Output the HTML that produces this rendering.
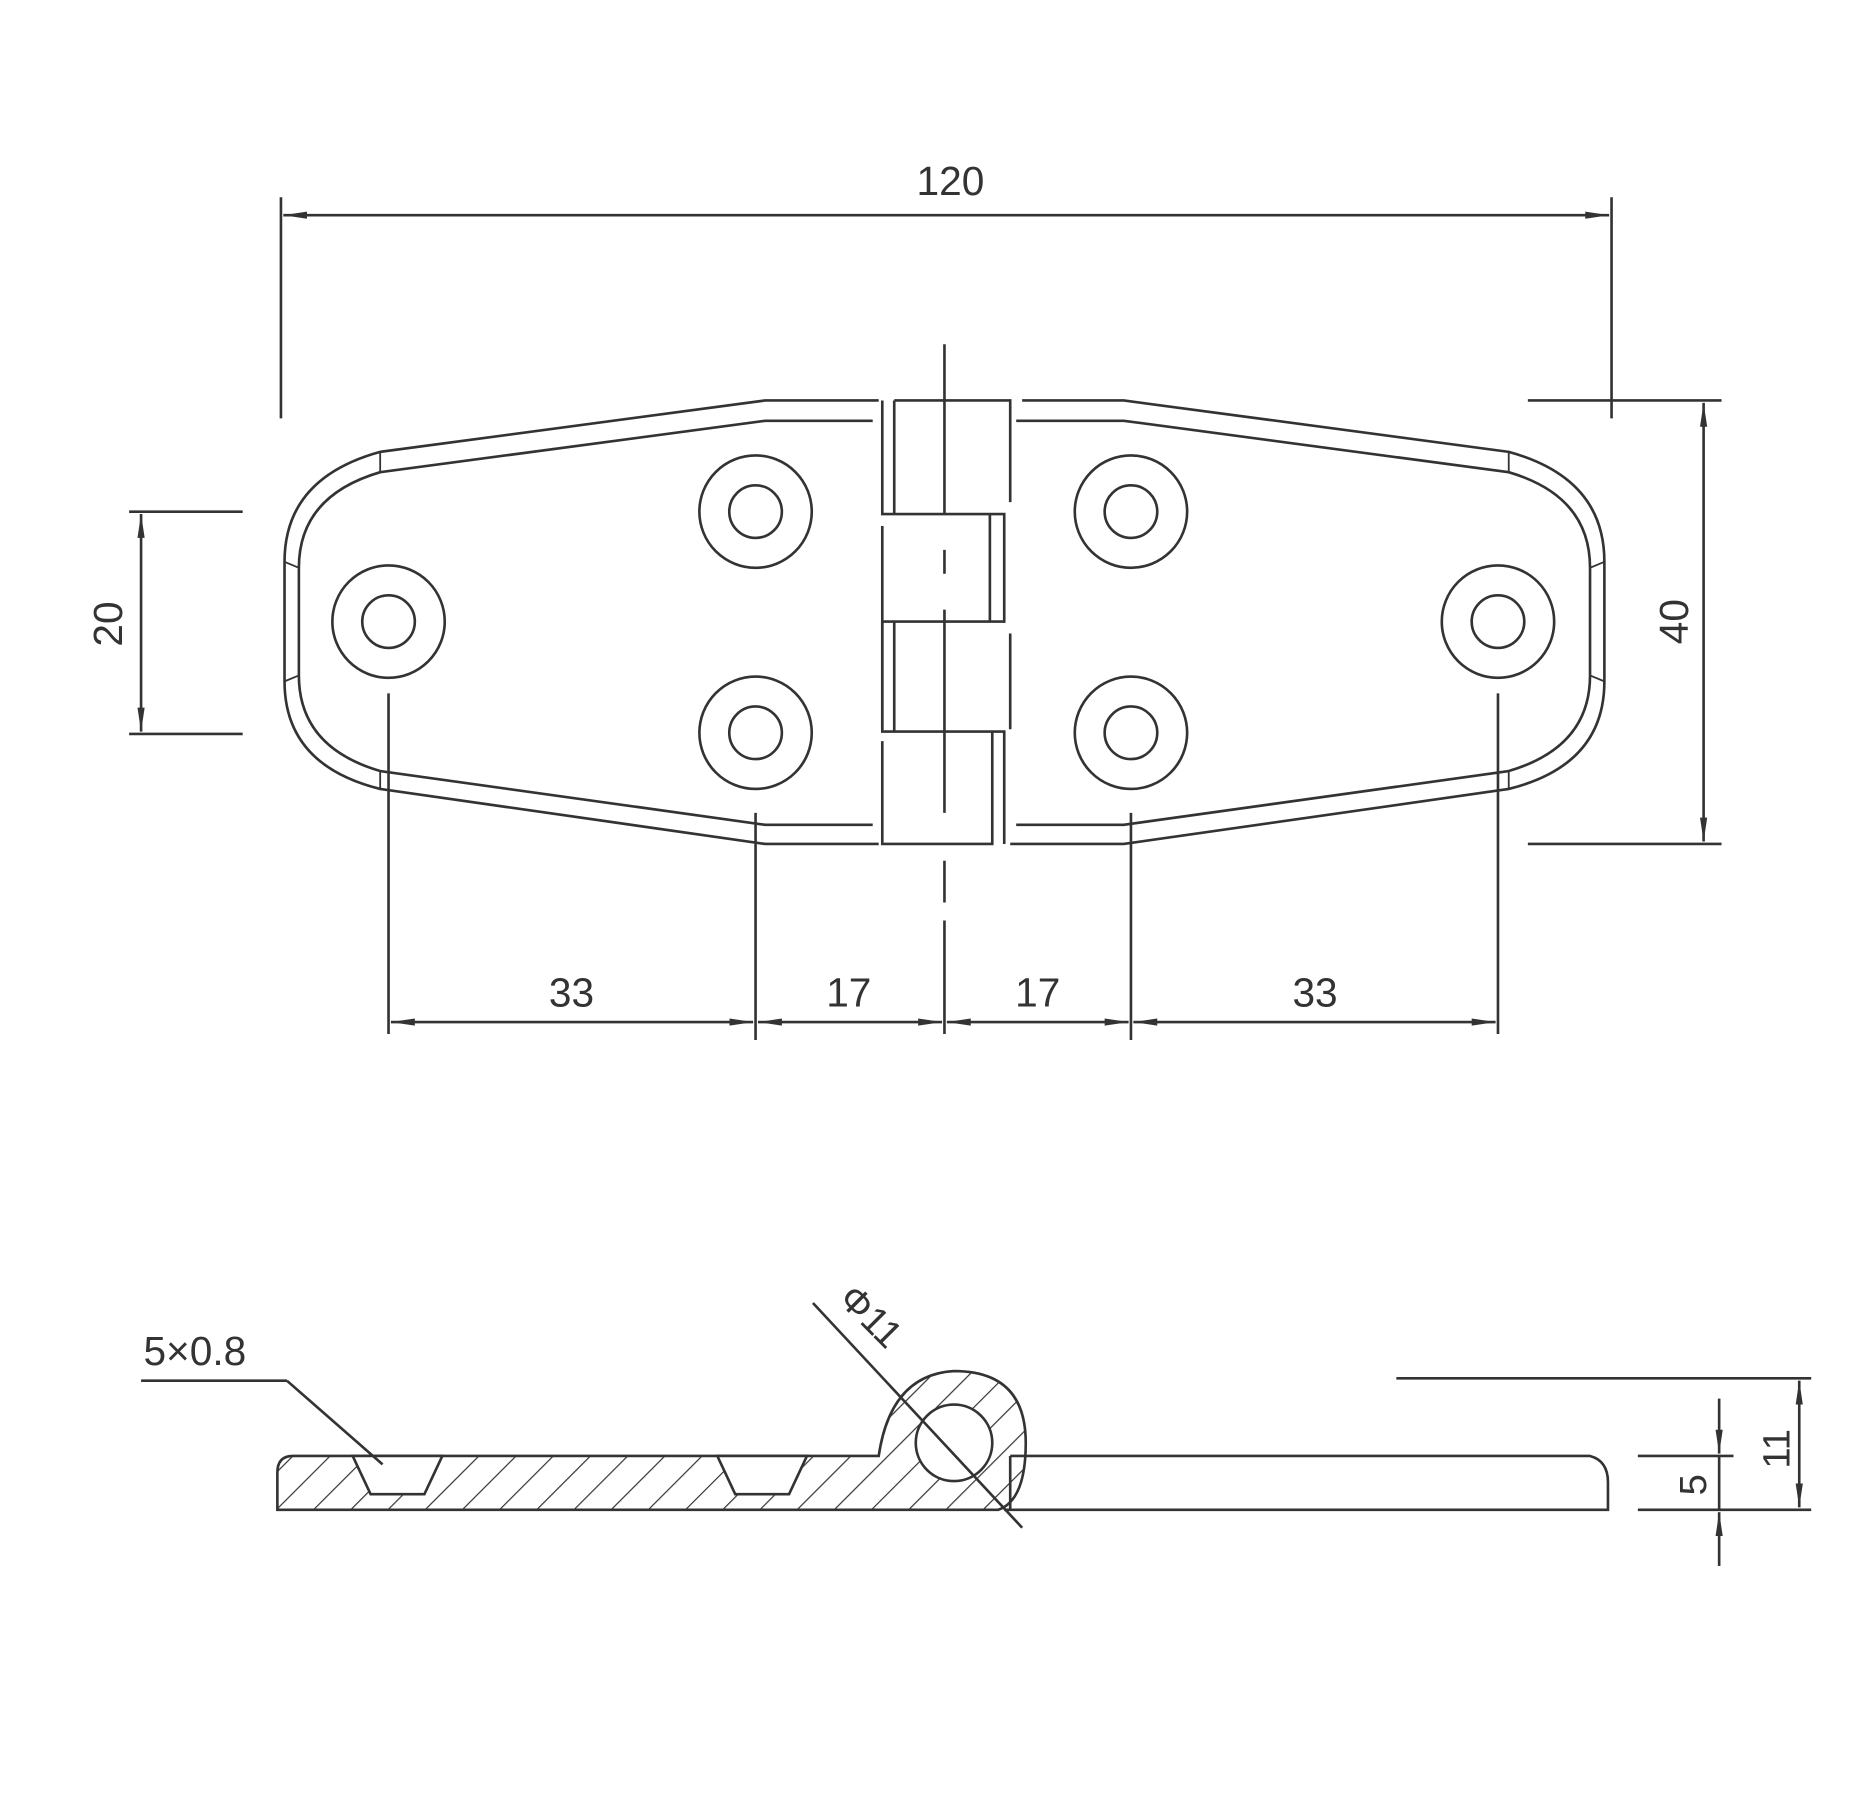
<!DOCTYPE html>
<html><head><style>html,body{margin:0;padding:0;background:#fff}svg{display:block}</style></head><body>
<svg width="1865" height="1817" viewBox="0 0 1560 1520" preserveAspectRatio="none" xmlns="http://www.w3.org/2000/svg" font-family="Liberation Sans, sans-serif" fill="none" stroke="#333" stroke-width="2.2">
<defs>
<marker id="a" viewBox="0 0 20 8" refX="20" refY="4" markerWidth="20" markerHeight="8" markerUnits="userSpaceOnUse" orient="auto-start-reverse"><path d="M0,1 L20,4 L0,7 z" fill="#333" stroke="none"/></marker>
<pattern id="h" width="22" height="22" patternUnits="userSpaceOnUse" patternTransform="rotate(45)"><line x1="0" y1="0" x2="0" y2="22" stroke="#333" stroke-width="2"/></pattern>
</defs>
<!-- 120 dim -->
<line x1="235" y1="165" x2="235" y2="350"/>
<line x1="1348" y1="165" x2="1348" y2="350"/>
<line x1="237" y1="180" x2="1346" y2="180" marker-start="url(#a)" marker-end="url(#a)"/>
<text x="795" y="163" font-size="34" fill="#333" stroke="none" text-anchor="middle">120</text>
<!-- left leaf outline -->
<path d="M735,335 L640,335 L318,378 Q238,400 238,470 L238,570 Q238,640 318,660 L640,706 L735,706"/>
<path d="M730,352 L640,352 L318,395 Q250,415 250,475 L250,565 Q250,625 318,645 L640,690 L730,690"/>
<path d="M855,335 L940,335 L1262,378 Q1342,400 1342,470 L1342,570 Q1342,640 1262,660 L940,706 L845,706"/>
<path d="M850,352 L940,352 L1262,395 Q1330,415 1330,475 L1330,565 Q1330,625 1262,645 L940,690 L850,690"/>
<g stroke-width="1.5"><line x1="318" y1="378" x2="318" y2="395"/><line x1="318" y1="645" x2="318" y2="660"/><line x1="238" y1="470" x2="250" y2="475"/><line x1="238" y1="570" x2="250" y2="565"/>
<line x1="1262" y1="378" x2="1262" y2="395"/><line x1="1262" y1="645" x2="1262" y2="660"/><line x1="1342" y1="470" x2="1330" y2="475"/><line x1="1342" y1="570" x2="1330" y2="565"/></g>
<!-- knuckles -->
<path d="M738,335 L738,430 L840,430 L840,520 L738,520 L738,612 L840,612 L840,706"/>
<path d="M748,335 L845,335 L845,420"/>
<path d="M748,335 L748,430"/>
<path d="M738,440 L738,610"/><path d="M828,430 L828,520"/>
<path d="M748,520 L748,612"/>
<path d="M845,530 L845,610"/>
<path d="M738,620 L738,706 L830,706 L830,612"/>
<line x1="790" y1="288" x2="790" y2="430"/><line x1="790" y1="460" x2="790" y2="480"/><line x1="790" y1="510" x2="790" y2="680"/><line x1="790" y1="720" x2="790" y2="755"/><line x1="790" y1="770" x2="790" y2="865"/>
<!-- holes -->
<g>
<circle cx="325" cy="520" r="47"/><circle cx="325" cy="520" r="22"/>
<circle cx="632" cy="428" r="47"/><circle cx="632" cy="428" r="22"/>
<circle cx="632" cy="613" r="47"/><circle cx="632" cy="613" r="22"/>
<circle cx="946" cy="428" r="47"/><circle cx="946" cy="428" r="22"/>
<circle cx="946" cy="613" r="47"/><circle cx="946" cy="613" r="22"/>
<circle cx="1253" cy="520" r="47"/><circle cx="1253" cy="520" r="22"/>
</g>
<!-- 20 dim -->
<line x1="108" y1="428" x2="203" y2="428"/><line x1="108" y1="614" x2="203" y2="614"/>
<line x1="118" y1="430" x2="118" y2="612" marker-start="url(#a)" marker-end="url(#a)"/>
<text transform="translate(102,522) rotate(-90)" font-size="34" fill="#333" stroke="none" text-anchor="middle">20</text>
<!-- 40 dim -->
<line x1="1278" y1="335" x2="1440" y2="335"/><line x1="1278" y1="706" x2="1440" y2="706"/>
<line x1="1425" y1="337" x2="1425" y2="704" marker-start="url(#a)" marker-end="url(#a)"/>
<text transform="translate(1412,520) rotate(-90)" font-size="34" fill="#333" stroke="none" text-anchor="middle">40</text>
<!-- bottom dims -->
<line x1="325" y1="580" x2="325" y2="865"/><line x1="632" y1="680" x2="632" y2="870"/><line x1="946" y1="680" x2="946" y2="870"/><line x1="1253" y1="580" x2="1253" y2="865"/>
<line x1="327" y1="855" x2="630" y2="855" marker-start="url(#a)" marker-end="url(#a)"/>
<line x1="634" y1="855" x2="788" y2="855" marker-start="url(#a)" marker-end="url(#a)"/>
<line x1="792" y1="855" x2="944" y2="855" marker-start="url(#a)" marker-end="url(#a)"/>
<line x1="948" y1="855" x2="1251" y2="855" marker-start="url(#a)" marker-end="url(#a)"/>
<g font-size="34" fill="#333" stroke="none" text-anchor="middle"><text x="478" y="842">33</text><text x="710" y="842">17</text><text x="868" y="842">17</text><text x="1100" y="842">33</text></g>
<!-- side view -->
<path d="M245,1218 L735,1218 Q745,1150 798,1147 Q858,1147 858,1207 Q858,1255 835,1263 L232,1263 L232,1232 Q232,1218 245,1218 Z" fill="url(#h)"/>
<path d="M295,1218 L310,1250 L355,1250 L370,1218 Z M600,1218 L615,1250 L660,1250 L675,1218 Z" fill="#fff" stroke="#333"/>
<circle cx="798" cy="1207" r="32" fill="#fff"/>
<path d="M845,1218 L1330,1218 Q1345,1222 1345,1240 L1345,1263 L840,1263"/>
<line x1="845" y1="1218" x2="845" y2="1263"/>
<line x1="680" y1="1090" x2="855" y2="1278"/>
<text transform="translate(700,1088) rotate(45)" font-size="32" fill="#333" stroke="none">Φ11</text>
<line x1="118" y1="1155" x2="240" y2="1155"/><line x1="240" y1="1155" x2="320" y2="1225"/>
<text x="120" y="1142" font-size="34" fill="#333" stroke="none">5×0.8</text>
<line x1="1168" y1="1153" x2="1515" y2="1153"/>
<line x1="1370" y1="1218" x2="1450" y2="1218"/>
<line x1="1370" y1="1263" x2="1515" y2="1263"/>
<line x1="1505" y1="1155" x2="1505" y2="1261" marker-start="url(#a)" marker-end="url(#a)"/>
<line x1="1438" y1="1170" x2="1438" y2="1216" marker-end="url(#a)"/>
<line x1="1438" y1="1310" x2="1438" y2="1265" marker-end="url(#a)"/>
<line x1="1438" y1="1218" x2="1438" y2="1263"/>
<text transform="translate(1497,1212) rotate(-90)" font-size="32" fill="#333" stroke="none" text-anchor="middle">11</text>
<text transform="translate(1427,1242) rotate(-90)" font-size="32" fill="#333" stroke="none" text-anchor="middle">5</text>
</svg>
</body></html>
